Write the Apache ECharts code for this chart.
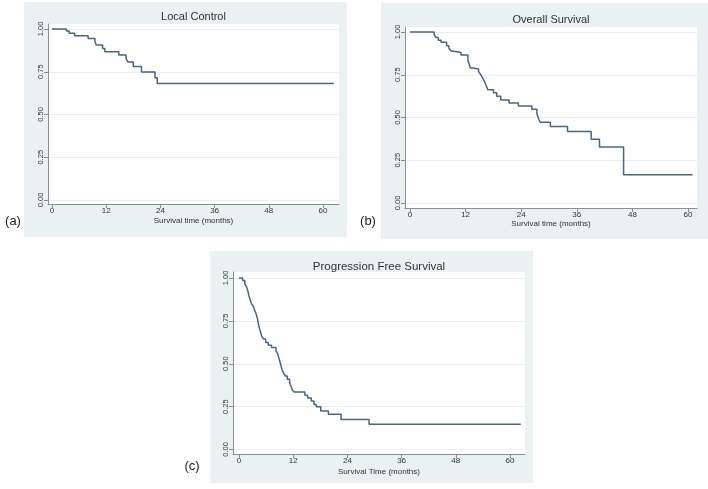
<!DOCTYPE html>
<html>
<head>
<meta charset="utf-8">
<script src="https://cdn.jsdelivr.net/npm/echarts@6/dist/echarts.min.js"></script>
<style>
html,body{margin:0;padding:0;background:#fff;}
#chart{width:708px;height:489px;}
</style>
</head>
<body>
<div id="chart"></div>
<script>
// ---- data ----
const xTicks = [0, 12, 24, 36, 48, 60];
const yTicks = [0, 0.25, 0.5, 0.75, 1];

const panelTitles = ['Local Control', 'Overall Survival', 'Progression Free Survival'];
const xAxisTitles = ['Survival time (months)', 'Survival time (months)', 'Survival Time (months)'];
const panelLetters = ['(a)', '(b)', '(c)'];

const lcTime = [0, 3.2, 3.8, 5.0, 8.0, 9.5, 9.8, 11.2, 11.7, 14.8, 16.4, 16.8, 18.0, 19.8, 22.8, 23.3, 62.4];
const lcSurv = [1, 0.988, 0.975, 0.961, 0.945, 0.925, 0.906, 0.886, 0.867, 0.848, 0.827, 0.807, 0.78, 0.749, 0.715, 0.682, 0.682];

const osTime = [0, 5.2, 5.6, 6.1, 6.7, 7.9, 8.4, 8.8, 9.2, 11.0, 12.5, 12.8, 13.0, 13.6, 14.8, 15.2, 15.6, 16.0, 16.4, 16.8, 18.0, 18.7, 19.6, 21.4, 23.4, 26.3, 27.4, 27.8, 28.1, 30.3, 34.0, 39.1, 40.9, 46.1, 61.0];
const osSurv = [1, 0.984, 0.968, 0.952, 0.94, 0.92, 0.905, 0.89, 0.88, 0.865, 0.83, 0.81, 0.79, 0.783, 0.768, 0.753, 0.735, 0.715, 0.69, 0.662, 0.645, 0.625, 0.603, 0.585, 0.567, 0.548, 0.52, 0.49, 0.472, 0.447, 0.418, 0.373, 0.328, 0.165, 0.165];

const pfsTime = [0, 0.8, 1.3, 1.7, 2.0, 2.2, 2.5, 2.8, 3.2, 3.5, 3.8, 4.1, 4.3, 4.6, 5.0, 5.4, 5.9, 6.5, 7.2, 8.2, 8.6, 8.9, 9.2, 9.5, 9.8, 10.2, 10.7, 11.2, 11.5, 11.8, 12.2, 14.6, 15.2, 16.0, 16.6, 17.1, 18.1, 19.8, 22.6, 28.8, 62.4];
const pfsSurv = [1, 0.985, 0.965, 0.947, 0.92, 0.897, 0.87, 0.848, 0.834, 0.81, 0.79, 0.76, 0.73, 0.7, 0.663, 0.645, 0.624, 0.608, 0.595, 0.575, 0.555, 0.526, 0.5, 0.468, 0.45, 0.429, 0.41, 0.39, 0.37, 0.347, 0.335, 0.316, 0.3, 0.283, 0.263, 0.25, 0.225, 0.205, 0.175, 0.147, 0.147];

const curves = [[lcTime, lcSurv], [osTime, osSurv], [pfsTime, pfsSurv]];

// ---- layout (pixel geometry of each panel) ----
const panels = [
  {box:[24, 2, 323, 235], plot:{left:48, right:339, top:24, bottom:204}, x0:52, x60:323, y0:200, y1:29, titleY:17, titleSize:11, letter:[13, 221], nameGap:13},
  {box:[381, 3, 327, 236], plot:{left:405, right:697, top:27, bottom:208}, x0:410, x60:688, y0:203, y1:32, titleY:20, titleSize:11, letter:[368, 221], nameGap:12},
  {box:[210, 251, 323, 232], plot:{left:233, right:525, top:272, bottom:454}, x0:239, x60:510, y0:449.5, y1:278, titleY:267, titleSize:11.5, letter:[192, 466], nameGap:14}
];

const FONT = 'Liberation Sans, Arial, sans-serif';
const BOX = '#e9f1f3';
const LINE = '#4a6581';
const AXIS = '#8a8f93';
const TXT = '#333';

const grids = [], xAxes = [], yAxes = [], series = [], graphics = [];

panels.forEach((p, i) => {
  const ppx = (p.x60 - p.x0) / 60;
  const ppy = (p.y0 - p.y1);
  const W = p.plot.right - p.plot.left;
  const H = p.plot.bottom - p.plot.top;
  grids.push({left:p.plot.left, top:p.plot.top, width:W, height:H, show:true, backgroundColor:'#ffffff', borderWidth:0, containLabel:false});
  xAxes.push({
    type:'value', gridIndex:i,
    min: -(p.x0 - p.plot.left) / ppx,
    max: (p.plot.right - p.x0) / ppx,
    axisLine:{show:true, onZero:false, lineStyle:{color:AXIS, width:1}},
    axisTick:{show:true, customValues:xTicks, length:4, lineStyle:{color:AXIS}},
    axisLabel:{customValues:xTicks, fontSize:8, color:TXT, fontFamily:FONT, margin:3},
    splitLine:{show:false},
    name:xAxisTitles[i], nameLocation:'middle', nameGap:p.nameGap,
    nameTextStyle:{fontSize:8, color:TXT, fontFamily:FONT}
  });
  yAxes.push({
    type:'value', gridIndex:i,
    min: -(p.plot.bottom - p.y0) / ppy,
    max: 1 + (p.y1 - p.plot.top) / ppy,
    axisLine:{show:true, onZero:false, lineStyle:{color:AXIS, width:1}},
    axisTick:{show:true, customValues:yTicks, length:4, lineStyle:{color:AXIS}},
    axisLabel:{customValues:yTicks, fontSize:7.5, color:TXT, fontFamily:FONT, rotate:90, margin:3,
      formatter:(v)=>Number(v).toFixed(2)},
    splitLine:{show:true, lineStyle:{color:'#e8eff2', width:1}}
  });
  const c = curves[i];
  series.push({
    type:'line', step:'end', xAxisIndex:i, yAxisIndex:i,
    showSymbol:false, symbol:'none', silent:true,
    lineStyle:{color:LINE, width:1.5},
    data:c[0].map((t, k) => [t, c[1][k]])
  });
  graphics.push({type:'rect', z:-10, shape:{x:p.box[0], y:p.box[1], width:p.box[2], height:p.box[3]}, style:{fill:BOX}});
  graphics.push({type:'text', z:100, style:{text:panelTitles[i], x:(p.plot.left + p.plot.right)/2, y:p.titleY,
    textAlign:'center', textVerticalAlign:'middle', fontSize:p.titleSize, fontFamily:FONT, fill:TXT}});
  graphics.push({type:'text', z:100, style:{text:panelLetters[i], x:p.letter[0], y:p.letter[1],
    textAlign:'center', textVerticalAlign:'middle', fontSize:13, fontFamily:FONT, fill:'#222'}});
});

const chart = echarts.init(document.getElementById('chart'), null, {renderer:'canvas'});
chart.setOption({
  animation:false,
  backgroundColor:'#ffffff',
  grid:grids, xAxis:xAxes, yAxis:yAxes, series:series,
  graphic:{elements:graphics}
});
</script>
</body>
</html>
